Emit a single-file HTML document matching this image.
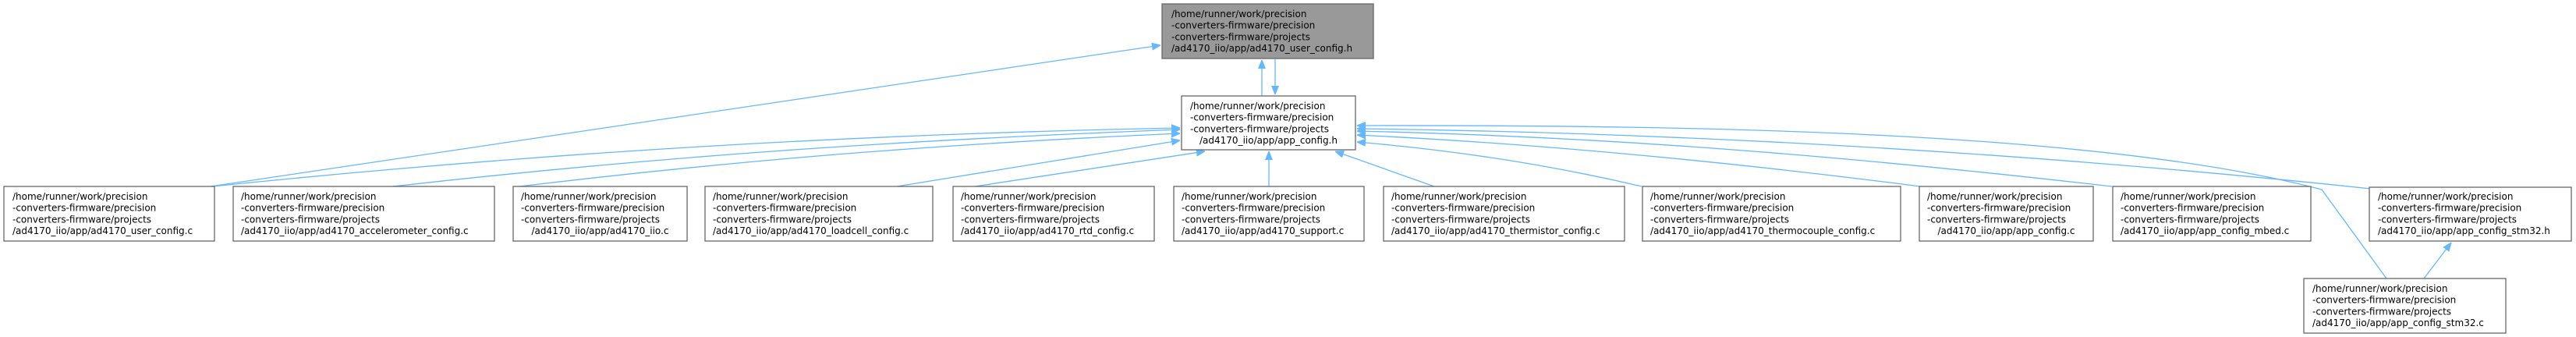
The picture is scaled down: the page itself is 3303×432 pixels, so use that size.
<!DOCTYPE html>
<html><head><meta charset="utf-8"><style>
html,body{margin:0;padding:0;background:#fff;}
svg{display:block;}
text{font-family:"DejaVu Sans","Liberation Sans",sans-serif;font-size:12px;fill:#000;}
.b{fill:#fff;stroke:#666;stroke-width:1.3;}
.g{fill:#999;stroke:#666;stroke-width:1.3;}
.e{fill:none;stroke:#63b8ff;stroke-width:1.3;}
</style></head><body>
<svg width="3303" height="432" viewBox="0 0 3303 432" xmlns="http://www.w3.org/2000/svg">
<defs><marker id="a" viewBox="0 0 10 10" refX="10" refY="5" markerWidth="11" markerHeight="11" markerUnits="userSpaceOnUse" orient="auto"><path d="M0,1L10,5L0,9z" fill="#63b8ff" stroke="#63b8ff"/></marker></defs>
<g class="e">
<path d="M270,239 L1488,58" marker-end="url(#a)"/>
<path d="M1618,123 L1618,77" marker-end="url(#a)"/>
<path d="M1635,76 L1635,121" marker-end="url(#a)"/>
<path d="M272,239 C700,195 1100,172 1513,164" marker-end="url(#a)"/>
<path d="M504,239 C850,200 1150,180 1513,166" marker-end="url(#a)"/>
<path d="M666,239 C950,205 1200,185 1513,171" marker-end="url(#a)"/>
<path d="M1150,239 L1513,180" marker-end="url(#a)"/>
<path d="M1250,239 L1545,194" marker-end="url(#a)"/>
<path d="M1627,239 L1627,194" marker-end="url(#a)"/>
<path d="M1839,239 L1712,194" marker-end="url(#a)"/>
<path d="M2105,239 C1990,212 1870,193 1740,182" marker-end="url(#a)"/>
<path d="M2462,239 C2200,205 1950,183 1740,173" marker-end="url(#a)"/>
<path d="M2708,239 C2350,198 2050,175 1740,168" marker-end="url(#a)"/>
<path d="M3040,242 C2600,195 2150,170 1740,165" marker-end="url(#a)"/>
<path d="M3060,357 L2977,243 C2700,170 2200,160 1740,161" marker-end="url(#a)"/>
<path d="M3108,357 L3143,311" marker-end="url(#a)"/>
</g>
<rect class="g" x="1490" y="5" width="271" height="70"/>
<text x="1502" y="22">/home/runner/work/precision</text><text x="1502" y="36.7">-converters-firmware/precision</text><text x="1502" y="51.4">-converters-firmware/projects</text><text x="1502" y="66.1">/ad4170_iio/app/ad4170_user_config.h</text>
<rect class="b" x="1515" y="123" width="223" height="69"/>
<text x="1526" y="140">/home/runner/work/precision</text><text x="1526" y="154.7">-converters-firmware/precision</text><text x="1526" y="169.4">-converters-firmware/projects</text><text x="1626.5" y="184.1" text-anchor="middle">/ad4170_iio/app/app_config.h</text>
<rect class="b" x="5" y="239" width="270" height="70"/>
<text x="16" y="256">/home/runner/work/precision</text><text x="16" y="270.7">-converters-firmware/precision</text><text x="16" y="285.4">-converters-firmware/projects</text><text x="16" y="300.1">/ad4170_iio/app/ad4170_user_config.c</text>
<rect class="b" x="299" y="239" width="335" height="70"/>
<text x="309" y="256">/home/runner/work/precision</text><text x="309" y="270.7">-converters-firmware/precision</text><text x="309" y="285.4">-converters-firmware/projects</text><text x="309" y="300.1">/ad4170_iio/app/ad4170_accelerometer_config.c</text>
<rect class="b" x="658" y="239" width="223" height="70"/>
<text x="668" y="256">/home/runner/work/precision</text><text x="668" y="270.7">-converters-firmware/precision</text><text x="668" y="285.4">-converters-firmware/projects</text><text x="769.5" y="300.1" text-anchor="middle">/ad4170_iio/app/ad4170_iio.c</text>
<rect class="b" x="904" y="239" width="292" height="70"/>
<text x="914" y="256">/home/runner/work/precision</text><text x="914" y="270.7">-converters-firmware/precision</text><text x="914" y="285.4">-converters-firmware/projects</text><text x="914" y="300.1">/ad4170_iio/app/ad4170_loadcell_config.c</text>
<rect class="b" x="1222" y="239" width="258" height="70"/>
<text x="1232" y="256">/home/runner/work/precision</text><text x="1232" y="270.7">-converters-firmware/precision</text><text x="1232" y="285.4">-converters-firmware/projects</text><text x="1232" y="300.1">/ad4170_iio/app/ad4170_rtd_config.c</text>
<rect class="b" x="1505" y="239" width="244" height="70"/>
<text x="1515" y="256">/home/runner/work/precision</text><text x="1515" y="270.7">-converters-firmware/precision</text><text x="1515" y="285.4">-converters-firmware/projects</text><text x="1515" y="300.1">/ad4170_iio/app/ad4170_support.c</text>
<rect class="b" x="1774" y="239" width="309" height="70"/>
<text x="1784" y="256">/home/runner/work/precision</text><text x="1784" y="270.7">-converters-firmware/precision</text><text x="1784" y="285.4">-converters-firmware/projects</text><text x="1784" y="300.1">/ad4170_iio/app/ad4170_thermistor_config.c</text>
<rect class="b" x="2106" y="239" width="331" height="70"/>
<text x="2116" y="256">/home/runner/work/precision</text><text x="2116" y="270.7">-converters-firmware/precision</text><text x="2116" y="285.4">-converters-firmware/projects</text><text x="2116" y="300.1">/ad4170_iio/app/ad4170_thermocouple_config.c</text>
<rect class="b" x="2461" y="239" width="223" height="70"/>
<text x="2471" y="256">/home/runner/work/precision</text><text x="2471" y="270.7">-converters-firmware/precision</text><text x="2471" y="285.4">-converters-firmware/projects</text><text x="2572.5" y="300.1" text-anchor="middle">/ad4170_iio/app/app_config.c</text>
<rect class="b" x="2709" y="239" width="254" height="70"/>
<text x="2719" y="256">/home/runner/work/precision</text><text x="2719" y="270.7">-converters-firmware/precision</text><text x="2719" y="285.4">-converters-firmware/projects</text><text x="2719" y="300.1">/ad4170_iio/app/app_config_mbed.c</text>
<rect class="b" x="3038" y="240" width="259" height="69"/>
<text x="3049" y="256">/home/runner/work/precision</text><text x="3049" y="270.7">-converters-firmware/precision</text><text x="3049" y="285.4">-converters-firmware/projects</text><text x="3049" y="300.1">/ad4170_iio/app/app_config_stm32.h</text>
<rect class="b" x="2954" y="357" width="259" height="70"/>
<text x="2965" y="374">/home/runner/work/precision</text><text x="2965" y="388.7">-converters-firmware/precision</text><text x="2965" y="403.4">-converters-firmware/projects</text><text x="2965" y="418.1">/ad4170_iio/app/app_config_stm32.c</text>
</svg>
</body></html>
